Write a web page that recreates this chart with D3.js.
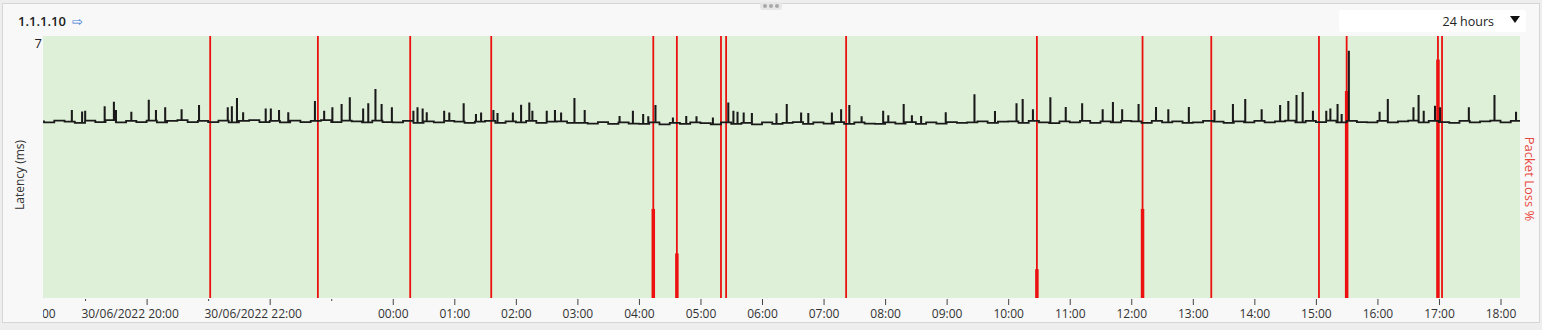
<!DOCTYPE html>
<html>
<head>
<meta charset="utf-8">
<script src="https://cdn.jsdelivr.net/npm/d3@7"></script>
<style>
  body { margin: 0; background: #eeeeee; }
  svg { display: block; font-family: "Open Sans", "Noto Sans", sans-serif; }
</style>
</head>
<body>
<div id="chart"></div>
<script>
// --- data -------------------------------------------------------------
const HOST = "1.1.1.10";
const RANGE_LABEL = "24 hours";
const WINDOW_START = "2022-06-30T18:19";
const WINDOW_END = "2022-07-01T18:19";

// baseline latency (ms), one sample every 10 min starting 30/06 18:10
const BASE_START = "2022-06-30T18:10";
const BASE_STEP_MIN = 10;
const latencyBase = [
  4.72, 4.69, 4.74, 4.71, 4.68,
  4.74, 4.70, 4.75, 4.69, 4.73, 4.70,
  4.74, 4.69, 4.73, 4.75, 4.70, 4.73,
  4.70, 4.74, 4.69, 4.73, 4.75, 4.70,
  4.73, 4.69, 4.74, 4.70, 4.73, 4.75,
  4.70, 4.74, 4.72, 4.69, 4.74, 4.70,
  4.69, 4.73, 4.68, 4.72, 4.69, 4.73,
  4.71, 4.68, 4.71, 4.73, 4.68, 4.72,
  4.69, 4.73, 4.68, 4.71, 4.72, 4.68,
  4.68, 4.66, 4.70, 4.65, 4.69, 4.66,
  4.65, 4.69, 4.64, 4.68, 4.65, 4.69,
  4.67, 4.64, 4.69, 4.65, 4.68, 4.64,
  4.69, 4.65, 4.68, 4.70, 4.65, 4.69,
  4.66, 4.70, 4.65, 4.69, 4.66, 4.65,
  4.69, 4.66, 4.70, 4.65, 4.69, 4.66,
  4.70, 4.68, 4.69, 4.72, 4.68, 4.71,
  4.72, 4.68, 4.73, 4.69, 4.67, 4.72,
  4.69, 4.73, 4.68, 4.72, 4.69, 4.73,
  4.72, 4.68, 4.73, 4.69, 4.72, 4.68,
  4.69, 4.73, 4.71, 4.68, 4.72, 4.69,
  4.73, 4.69, 4.72, 4.74, 4.69, 4.73,
  4.70, 4.74, 4.69, 4.73, 4.70, 4.69,
  4.73, 4.69, 4.72, 4.74, 4.69, 4.73,
  4.70, 4.68, 4.73, 4.69, 4.72, 4.74,
  4.69, 4.73, 4.71
];

// latency spikes [clock, ms] (clock >= 18:19 is on 30/06, otherwise 01/07)
const latencySpikes = [
  ["18:47", 5.00], ["18:57", 4.96], ["19:00", 4.98], ["19:19", 5.10], ["19:28", 5.22],
  ["19:30", 5.00], ["19:45", 4.95], ["20:02", 5.27], ["20:09", 5.00], ["20:18", 5.07],
  ["20:34", 5.02], ["20:51", 5.13], ["21:19", 5.07], ["21:23", 5.10], ["21:28", 5.32],
  ["21:34", 4.94], ["21:56", 5.04], ["22:01", 5.04], ["22:09", 5.00], ["22:18", 4.94],
  ["22:44", 5.24], ["22:53", 4.98], ["23:01", 5.07], ["23:10", 5.16], ["23:18", 5.34],
  ["23:31", 5.04], ["23:36", 5.18], ["23:43", 5.56], ["23:49", 5.16], ["23:59", 5.07],
  ["00:20", 4.98], ["00:24", 5.07], ["00:29", 5.04], ["00:33", 4.94], ["00:50", 4.98],
  ["00:55", 4.93], ["01:09", 5.18], ["01:21", 4.89], ["01:26", 4.93], ["01:38", 5.00],
  ["01:42", 4.92], ["01:57", 4.93], ["02:05", 5.14], ["02:13", 5.20], ["02:16", 4.98],
  ["02:30", 4.98], ["02:38", 5.00], ["02:44", 4.93], ["02:57", 5.32], ["03:07", 5.00],
  ["03:41", 4.84], ["03:54", 4.98], ["04:04", 4.89], ["04:09", 4.83], ["04:16", 5.13],
  ["04:33", 4.80], ["04:46", 4.84], ["04:56", 4.83], ["05:12", 4.80], ["05:27", 5.20],
  ["05:32", 4.98], ["05:36", 4.95], ["05:42", 4.93], ["05:50", 4.92], ["06:14", 4.91],
  ["06:24", 5.16], ["06:38", 4.93], ["06:45", 4.92], ["07:08", 4.93], ["07:17", 5.02],
  ["07:25", 5.13], ["07:37", 4.83], ["07:58", 4.98], ["08:03", 4.86], ["08:18", 5.16],
  ["08:26", 4.86], ["08:35", 4.84], ["08:59", 4.94], ["09:27", 5.42], ["09:47", 4.97],
  ["10:08", 5.18], ["10:14", 5.29], ["10:24", 5.02], ["10:41", 5.34], ["10:56", 5.08],
  ["11:12", 5.18], ["11:32", 5.02], ["11:42", 5.21], ["11:51", 5.02], ["12:07", 5.16],
  ["12:24", 5.08], ["12:36", 5.02], ["12:56", 5.08], ["13:21", 5.00], ["13:39", 5.16],
  ["13:51", 5.29], ["14:07", 5.02], ["14:25", 5.13], ["14:33", 5.24], ["14:41", 5.40],
  ["14:47", 5.48], ["14:57", 4.98], ["15:10", 4.98], ["15:14", 5.04], ["15:21", 5.16],
  ["15:25", 4.89], ["15:32", 6.58], ["16:02", 4.95], ["16:10", 5.29], ["16:35", 5.07],
  ["16:40", 5.40], ["16:45", 4.98], ["16:56", 5.11], ["17:01", 5.07], ["17:29", 5.07],
  ["17:54", 5.40], ["18:15", 4.95]
];

// packet loss events [clock, loss %]
const packetLoss = [
  ["21:02", 0], ["22:47", 0], ["00:17", 0], ["01:36", 0], ["04:14", 34], ["04:37", 17],
  ["05:20", 0], ["05:25", 0], ["07:22", 0], ["10:28", 11], ["12:11", 34], ["13:18", 0],
  ["15:03", 0], ["15:30", 79], ["16:59", 91], ["17:03", 0]
];

// axis ticks
const majorTicks = [
  "2022-06-30T18:00", "2022-06-30T20:00", "2022-06-30T22:00",
  "2022-07-01T00:00", "2022-07-01T01:00", "2022-07-01T02:00", "2022-07-01T03:00",
  "2022-07-01T04:00", "2022-07-01T05:00", "2022-07-01T06:00", "2022-07-01T07:00",
  "2022-07-01T08:00", "2022-07-01T09:00", "2022-07-01T10:00", "2022-07-01T11:00",
  "2022-07-01T12:00", "2022-07-01T13:00", "2022-07-01T14:00", "2022-07-01T15:00",
  "2022-07-01T16:00", "2022-07-01T17:00", "2022-07-01T18:00"
];
const minorTicks = ["2022-06-30T19:00", "2022-06-30T21:00", "2022-06-30T23:00"];
const Y_MAX = 7;

// --- helpers ----------------------------------------------------------
const parse = d3.timeParse("%Y-%m-%dT%H:%M");
const clockToDate = c => (c >= "18:19" ? parse("2022-06-30T" + c) : parse("2022-07-01T" + c));

const baseStart = parse(BASE_START);
const basePoints = latencyBase.map((v, i) => ({ t: d3.timeMinute.offset(baseStart, i * BASE_STEP_MIN), v }));
const baseAt = t => {
  const i = d3.bisector(d => d.t).right(basePoints, t) - 1;
  return basePoints[Math.max(0, i)].v;
};
const series = basePoints.slice();
latencySpikes.forEach(([c, v]) => {
  const t = clockToDate(c);
  series.push({ t, v });
  series.push({ t: d3.timeSecond.offset(t, 15), v: baseAt(t) });
});
series.sort((a, b) => a.t - b.t);

// --- layout -----------------------------------------------------------
const W = 1542, H = 330;
const plot = { left: 43, right: 1520, top: 36, bottom: 298 };

const svg = d3.select("#chart").append("svg").attr("width", W).attr("height", H);

svg.append("rect").attr("x", 2.5).attr("y", 3.5).attr("width", W - 5).attr("height", 319)
  .attr("fill", "#f8f8f8").attr("stroke", "#d6d6d6");

// drag handle
svg.append("rect").attr("x", 760).attr("y", 2).attr("width", 22).attr("height", 8).attr("rx", 3)
  .attr("fill", "#e6e6e6");
[765, 771, 777].forEach(cx => svg.append("circle").attr("cx", cx).attr("cy", 6).attr("r", 2).attr("fill", "#a8a8a8"));

// header
const title = svg.append("text").attr("x", 18).attr("y", 26)
  .attr("font-size", 13).attr("font-weight", 600).attr("fill", "#222").text(HOST);
title.append("tspan").attr("dx", 6).attr("fill", "#3d7fd6").attr("font-weight", 400).text("\u21e8");

const dd = svg.append("g");
dd.append("rect").attr("x", 1339).attr("y", 10).attr("width", 187).attr("height", 22).attr("rx", 3)
  .attr("fill", "#fff");
dd.append("text").attr("x", 1494).attr("y", 25.5).attr("text-anchor", "end")
  .attr("font-size", 12.5).attr("fill", "#222").text(RANGE_LABEL);
dd.append("path").attr("d", "M1510,16 L1520,16 L1515,23 Z").attr("fill", "#111");

// scales
const x = d3.scaleTime().domain([parse(WINDOW_START), parse(WINDOW_END)]).range([plot.left, plot.right]);
const y = d3.scaleLinear().domain([0, Y_MAX]).range([plot.bottom, plot.top]);
const yLoss = d3.scaleLinear().domain([0, 100]).range([plot.bottom, plot.top]);

svg.append("defs").append("clipPath").attr("id", "clip")
  .append("rect").attr("x", plot.left).attr("y", 0).attr("width", plot.right - plot.left).attr("height", H);

svg.append("rect").attr("x", plot.left).attr("y", plot.top)
  .attr("width", plot.right - plot.left).attr("height", plot.bottom - plot.top)
  .attr("fill", "#dff0d8");

const g = svg.append("g").attr("clip-path", "url(#clip)");

// packet loss
const lossG = g.append("g");
packetLoss.forEach(([c, p]) => {
  const px = x(clockToDate(c));
  lossG.append("line").attr("x1", px).attr("x2", px).attr("y1", yLoss(100)).attr("y2", yLoss(0))
    .attr("stroke", "#ec1010").attr("stroke-width", 1.8);
  if (p > 0) {
    lossG.append("rect").attr("x", px - 1.75).attr("width", 3.5)
      .attr("y", yLoss(p)).attr("height", yLoss(0) - yLoss(p)).attr("fill", "#ec1010");
  }
});

// latency line
const line = d3.line().x(d => x(d.t)).y(d => y(d.v)).curve(d3.curveStepAfter);
g.append("path").datum(series).attr("d", line)
  .attr("fill", "none").attr("stroke", "#1a1a1a").attr("stroke-width", 1.8);

// y labels
svg.append("text").attr("x", 42).attr("y", 48).attr("text-anchor", "end")
  .attr("font-size", 13).attr("fill", "#222").text(Y_MAX);
svg.append("text").attr("transform", "translate(24,175) rotate(-90)").attr("text-anchor", "middle")
  .attr("font-size", 12).attr("fill", "#333").text("Latency (ms)");
svg.append("text").attr("transform", "translate(1525,179) rotate(90)").attr("text-anchor", "middle")
  .attr("font-size", 13).attr("fill", "#e8473d").text("Packet Loss %");

// x axis
const fmtTime = d3.timeFormat("%H:%M");
const fmtDate = d3.timeFormat("%d/%m/%Y %H:%M");
const isDay1 = d => d.getDate() === 30;
const axG = svg.append("g").attr("clip-path", "url(#clip)");

const xAxis = axG.append("g").attr("transform", `translate(0,${plot.bottom + 1})`)
  .call(d3.axisBottom(x).tickValues(majorTicks.map(parse)).tickSize(6).tickPadding(4)
    .tickFormat(d => isDay1(d) ? fmtDate(d) : fmtTime(d)));
xAxis.select(".domain").remove();
xAxis.selectAll(".tick line").attr("stroke", "#444");
xAxis.selectAll(".tick text").attr("font-size", 12).attr("fill", "#333")
  .attr("font-family", "'Open Sans', sans-serif")
  .attr("dx", d => isDay1(d) ? -17 : 0);

const xMinor = axG.append("g").attr("transform", `translate(0,${plot.bottom + 1})`)
  .call(d3.axisBottom(x).tickValues(minorTicks.map(parse)).tickSize(2).tickFormat(""));
xMinor.select(".domain").remove();
xMinor.selectAll(".tick line").attr("stroke", "#444");
</script>
</body>
</html>
